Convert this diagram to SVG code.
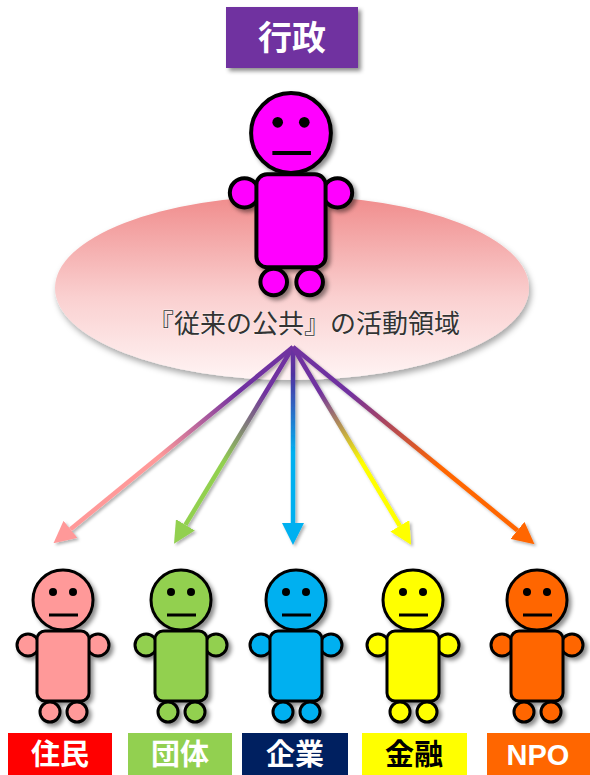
<svg xmlns="http://www.w3.org/2000/svg" xmlns:xlink="http://www.w3.org/1999/xlink" width="590" height="775" viewBox="0 0 590 775">
  <style>
    .jp { font-family: "Noto Sans CJK JP", "Noto Sans", sans-serif; }
    .lbl { font-size: 29px; font-weight: bold; text-anchor: middle; fill: #ffffff; }
    .ln { stroke-width: 4.5; fill: none; }
    .fig circle, .fig rect { stroke: #000; stroke-width: 3; }
    .fig .eye { stroke: none; fill: #000; }
    .fig line { stroke: #000; stroke-width: 3; }
  </style>
  <defs>
    <filter id="shadow" x="-20%" y="-20%" width="150%" height="150%">
      <feDropShadow dx="3" dy="3" stdDeviation="2" flood-color="#000" flood-opacity="0.45"/>
    </filter>
    <filter id="softShadow" x="-10%" y="-10%" width="130%" height="140%">
      <feDropShadow dx="2" dy="4" stdDeviation="3" flood-color="#000" flood-opacity="0.35"/>
    </filter>
    <filter id="lineShadow" x="-20%" y="-20%" width="150%" height="150%">
      <feDropShadow dx="2" dy="2" stdDeviation="1.5" flood-color="#000" flood-opacity="0.3"/>
    </filter>
    <linearGradient id="ovalFill" x1="0" y1="0" x2="0" y2="1">
      <stop offset="0" stop-color="#F08C8C"/>
      <stop offset="0.55" stop-color="#FAD0D0"/>
      <stop offset="1" stop-color="#FFF4F4"/>
    </linearGradient>

    <!-- a person: head centre at origin -->
    <g id="person" class="fig">
      <circle cx="-35" cy="45" r="11"/>
      <circle cx="35" cy="45" r="11"/>
      <circle cx="-13" cy="112" r="10"/>
      <circle cx="14" cy="112" r="10"/>
      <rect x="-26" y="31" width="52" height="70" rx="8"/>
      <circle cx="0" cy="0" r="30"/>
      <circle class="eye" cx="-10" cy="-8" r="4"/>
      <circle class="eye" cx="10" cy="-8" r="4"/>
      <line x1="-14" y1="15" x2="15" y2="15"/>
    </g>

    <linearGradient id="gPink" gradientUnits="userSpaceOnUse" x1="293" y1="347" x2="70.5" y2="529.3">
      <stop offset="0" stop-color="#7030A0"/><stop offset="0.25" stop-color="#7030A0"/><stop offset="0.6" stop-color="#FF9999"/>
    </linearGradient>
    <linearGradient id="gGreen" gradientUnits="userSpaceOnUse" x1="293" y1="347" x2="185.4" y2="524.9">
      <stop offset="0" stop-color="#7030A0"/><stop offset="0.25" stop-color="#7030A0"/><stop offset="0.65" stop-color="#92D050"/>
    </linearGradient>
    <linearGradient id="gBlue" gradientUnits="userSpaceOnUse" x1="293" y1="347" x2="293" y2="523">
      <stop offset="0" stop-color="#7030A0"/><stop offset="0.15" stop-color="#5030A0"/><stop offset="0.6" stop-color="#00B0F0"/>
    </linearGradient>
    <linearGradient id="gYellow" gradientUnits="userSpaceOnUse" x1="293" y1="347" x2="399.8" y2="525.8">
      <stop offset="0" stop-color="#7030A0"/><stop offset="0.25" stop-color="#7030A0"/><stop offset="0.65" stop-color="#FFFF00"/>
    </linearGradient>
    <linearGradient id="gOrange" gradientUnits="userSpaceOnUse" x1="293" y1="347" x2="517.5" y2="530.4">
      <stop offset="0" stop-color="#7030A0"/><stop offset="0.25" stop-color="#7030A0"/><stop offset="0.65" stop-color="#FF6600"/>
    </linearGradient>

    <marker id="hPink" viewBox="0 0 20 20" markerUnits="userSpaceOnUse" markerWidth="22" markerHeight="22" refX="0" refY="10" orient="auto"><path d="M0,0 L20,10 L0,20 z" fill="#FF9999"/></marker>
    <marker id="hGreen" viewBox="0 0 20 20" markerUnits="userSpaceOnUse" markerWidth="22" markerHeight="22" refX="0" refY="10" orient="auto"><path d="M0,0 L20,10 L0,20 z" fill="#92D050"/></marker>
    <marker id="hBlue" viewBox="0 0 20 20" markerUnits="userSpaceOnUse" markerWidth="22" markerHeight="22" refX="0" refY="10" orient="auto"><path d="M0,0 L20,10 L0,20 z" fill="#00B0F0"/></marker>
    <marker id="hYellow" viewBox="0 0 20 20" markerUnits="userSpaceOnUse" markerWidth="22" markerHeight="22" refX="0" refY="10" orient="auto"><path d="M0,0 L20,10 L0,20 z" fill="#FFFF00"/></marker>
    <marker id="hOrange" viewBox="0 0 20 20" markerUnits="userSpaceOnUse" markerWidth="22" markerHeight="22" refX="0" refY="10" orient="auto"><path d="M0,0 L20,10 L0,20 z" fill="#FF6600"/></marker>
  </defs>

  <rect width="590" height="775" fill="#ffffff"/>

  <!-- administration title -->
  <g id="title">
    <rect x="226" y="7" width="132" height="61" fill="#7030A0" filter="url(#shadow)"/>
    <text class="jp" x="292" y="50" font-size="34" font-weight="bold" fill="#ffffff" text-anchor="middle">行政</text>
  </g>

  <!-- traditional public domain -->
  <g id="domain">
    <ellipse cx="292" cy="288" rx="237" ry="92" fill="url(#ovalFill)" filter="url(#softShadow)"/>
  </g>

  <!-- administration figure -->
  <g id="gov" filter="url(#shadow)">
    <use xlink:href="#person" transform="translate(291,133) scale(1.33)" fill="#FF00FF"/>
  </g>

  <g id="domainLabel">
    <text class="jp" x="304" y="333" font-size="26" fill="#333333" stroke="#ffffff" stroke-width="0.6" paint-order="stroke" text-anchor="middle">『従来の公共』の活動領域</text>
  </g>

  <!-- connectors -->
  <g id="connectors" filter="url(#lineShadow)">
    <line class="ln" x1="293" y1="347" x2="70.5" y2="529.3" stroke="url(#gPink)" marker-end="url(#hPink)"/>
    <line class="ln" x1="293" y1="347" x2="185.4" y2="524.9" stroke="url(#gGreen)" marker-end="url(#hGreen)"/>
    <line class="ln" x1="293" y1="347" x2="293" y2="523" stroke="url(#gBlue)" marker-end="url(#hBlue)"/>
    <line class="ln" x1="293" y1="347" x2="399.8" y2="525.8" stroke="url(#gYellow)" marker-end="url(#hYellow)"/>
    <line class="ln" x1="293" y1="347" x2="517.5" y2="530.4" stroke="url(#gOrange)" marker-end="url(#hOrange)"/>
  </g>

  <!-- stakeholders -->
  <g id="residents">
    <use xlink:href="#person" transform="translate(63,600)" fill="#FF9999" filter="url(#shadow)"/>
    <rect x="8" y="733" width="104" height="45" fill="#FF0000"/>
    <text class="jp lbl" x="60" y="765">住民</text>
  </g>
  <g id="groups">
    <use xlink:href="#person" transform="translate(181,600)" fill="#92D050" filter="url(#shadow)"/>
    <rect x="128" y="733" width="104" height="45" fill="#92D050"/>
    <text class="jp lbl" x="180" y="765">団体</text>
  </g>
  <g id="companies">
    <use xlink:href="#person" transform="translate(296,600)" fill="#00B0F0" filter="url(#shadow)"/>
    <rect x="242" y="733" width="106" height="45" fill="#002060"/>
    <text class="jp lbl" x="295" y="765">企業</text>
  </g>
  <g id="finance">
    <use xlink:href="#person" transform="translate(413,600)" fill="#FFFF00" filter="url(#shadow)"/>
    <rect x="362" y="733" width="105" height="45" fill="#FFFF00"/>
    <text class="jp lbl" x="414" y="765" style="fill:#000">金融</text>
  </g>
  <g id="npo">
    <use xlink:href="#person" transform="translate(537,600)" fill="#FF6600" filter="url(#shadow)"/>
    <rect x="487" y="733" width="105" height="45" fill="#FF6600"/>
    <text x="538" y="765" font-family="'Liberation Sans', Arial, sans-serif" font-size="29" font-weight="bold" fill="#ffffff" text-anchor="middle">NPO</text>
  </g>
</svg>
